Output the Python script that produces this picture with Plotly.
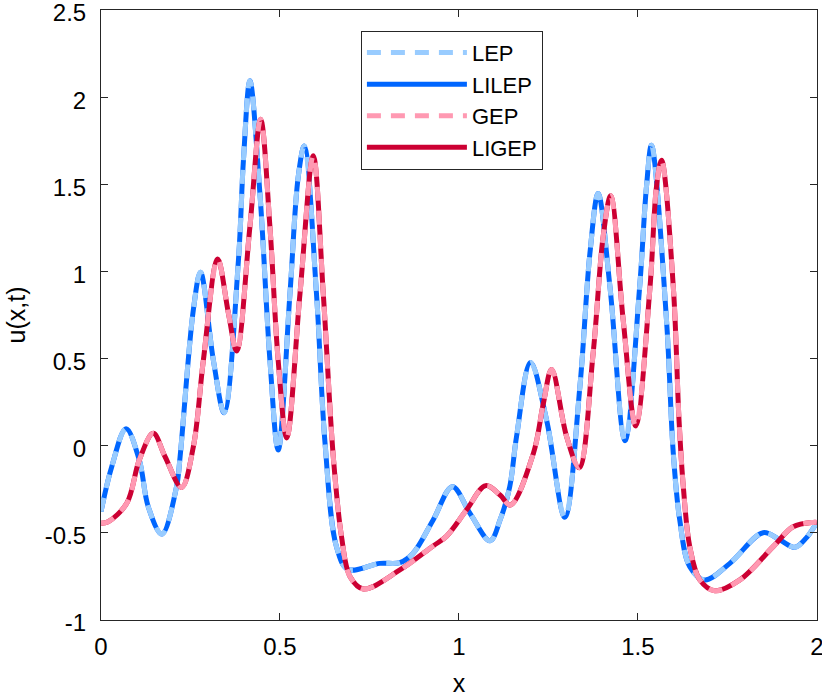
import plotly.graph_objects as go

# ---- data ----
blue_x = [0.0, 0.03, 0.070, 0.107, 0.132, 0.170, 0.211, 0.221, 0.258, 0.278, 0.314, 0.344,
          0.384, 0.398, 0.416, 0.444, 0.472, 0.495, 0.528, 0.551, 0.568, 0.602, 0.626,
          0.658, 0.690, 0.779, 0.835, 0.872, 0.928, 0.982, 1.031, 1.087, 1.115, 1.142,
          1.161, 1.200, 1.245, 1.296, 1.338, 1.366, 1.389, 1.422, 1.464, 1.505, 1.524,
          1.538, 1.580, 1.599, 1.617, 1.645, 1.687, 1.757, 1.850, 1.897, 1.939, 1.970, 2.0]
blue_u = [-0.378, -0.12, 0.098, -0.082, -0.35, -0.507, -0.235, -0.063, 0.78, 0.995, 0.49, 0.19,
          1.065, 1.64, 2.094, 1.448, 0.49, -0.025, 0.874, 1.543, 1.72, 0.874, 0.014,
          -0.58, -0.709, -0.675, -0.671, -0.617, -0.426, -0.235, -0.388, -0.545, -0.426, -0.235,
          0.052, 0.478, 0.147, -0.411, 0.339, 1.104, 1.448, 0.912, 0.029, 0.912, 1.486,
          1.725, 0.721, -0.044, -0.426, -0.694, -0.77, -0.675, -0.499, -0.541, -0.583, -0.53, -0.44]

red_x = [0.0, 0.02, 0.072, 0.107, 0.146, 0.179, 0.225, 0.258, 0.286, 0.326, 0.356, 0.379,
         0.416, 0.446, 0.472, 0.495, 0.519, 0.556, 0.593, 0.621, 0.649, 0.672, 0.696,
         0.733, 0.835, 0.928, 0.965, 1.021, 1.075, 1.115, 1.144, 1.208, 1.236, 1.259,
         1.301, 1.336, 1.375, 1.403, 1.424, 1.459, 1.494, 1.534, 1.552, 1.566, 1.599,
         1.615, 1.627, 1.645, 1.673, 1.715, 1.785, 1.878, 1.934, 1.99, 2.0]
red_u = [-0.445, -0.436, -0.33, -0.082, 0.071, -0.063, -0.239, -0.006, 0.49, 1.071, 0.76, 0.543,
         1.256, 1.873, 1.256, 0.49, 0.045, 0.874, 1.664, 0.874, -0.063, -0.522, -0.752,
         -0.822, -0.713, -0.575, -0.52, -0.369, -0.229, -0.283, -0.34, -0.044, 0.243, 0.438,
         0.052, -0.126, 0.53, 1.2, 1.434, 0.721, 0.113, 0.912, 1.486, 1.639, 0.912,
         0.147, -0.235, -0.579, -0.77, -0.832, -0.77, -0.579, -0.465, -0.44, -0.44]

lep_x, lep_u = blue_x, blue_u
lilep_x, lilep_u = blue_x, blue_u
gep_x, gep_u = red_x, red_u
ligep_x, ligep_u = red_x, red_u

names = ["LEP", "LILEP", "GEP", "LIGEP"]
x_ticks = [0, 0.5, 1, 1.5, 2]
x_ticklabels = ["0", "0.5", "1", "1.5", "2"]
y_ticks = [-1, -0.5, 0, 0.5, 1, 1.5, 2, 2.5]
y_ticklabels = ["-1", "-0.5", "0", "0.5", "1", "1.5", "2", "2.5"]

C_LEP = "#99CCFF"
C_LILEP = "#0066FF"
C_GEP = "#FF99B2"
C_LIGEP = "#CC0033"
DASH = "14px,10px"
LW = 5

fig = go.Figure()
# draw order: solid under, dashed on top; red pair above blue pair
fig.add_trace(go.Scatter(x=lilep_x, y=lilep_u, name=names[1], mode="lines", legendrank=2,
                         line=dict(color=C_LILEP, width=LW, shape="spline", smoothing=1.0)))
fig.add_trace(go.Scatter(x=lep_x, y=lep_u, name=names[0], mode="lines", legendrank=1,
                         line=dict(color=C_LEP, width=LW, dash=DASH, shape="spline", smoothing=1.0)))
fig.add_trace(go.Scatter(x=ligep_x, y=ligep_u, name=names[3], mode="lines", legendrank=4,
                         line=dict(color=C_LIGEP, width=LW, shape="spline", smoothing=1.0)))
fig.add_trace(go.Scatter(x=gep_x, y=gep_u, name=names[2], mode="lines", legendrank=3,
                         line=dict(color=C_GEP, width=LW, dash=DASH, shape="spline", smoothing=1.0)))

axis_col = "#262626"
fig.update_layout(
    width=822, height=697,
    margin=dict(l=101, r=5, t=10, b=77, autoexpand=False),
    paper_bgcolor="white", plot_bgcolor="white",
    font=dict(family="Liberation Sans, Arial, sans-serif", size=25, color="#262626"),
    showlegend=True,
    legend=dict(x=0.363, y=0.966, xanchor="left", yanchor="top",
                bgcolor="white", bordercolor=axis_col, borderwidth=1,
                font=dict(size=22, color="black"), itemwidth=100,
                tracegroupgap=0),
)
fig.update_xaxes(range=[0, 2.0005], tickvals=x_ticks, ticktext=x_ticklabels, automargin=False,
                 showgrid=False, zeroline=False, showline=True, linecolor=axis_col, linewidth=1,
                 mirror="ticks", ticks="inside", ticklen=7, tickcolor=axis_col,
                 tickfont=dict(size=24, color="black"), ticklabelstandoff=5,
                 ticklabeloverflow="allow",
                 title=dict(text="x", font=dict(size=25, color="black"), standoff=15))
fig.update_yaxes(range=[-1, 2.5005], tickvals=y_ticks, ticktext=y_ticklabels, automargin=False,
                 showgrid=False, zeroline=False, showline=True, linecolor=axis_col, linewidth=1,
                 mirror="ticks", ticks="inside", ticklen=7, tickcolor=axis_col,
                 tickfont=dict(size=24, color="black"), ticklabelstandoff=9,
                 ticklabelshift=3, ticklabeloverflow="allow",
                 title=dict(text="u(x,t)", font=dict(size=25, color="black"), standoff=12))

fig.write_html("out.html", config={"displayModeBar": False},
               post_script="document.body.style.margin='0';document.body.style.overflow='hidden';")
